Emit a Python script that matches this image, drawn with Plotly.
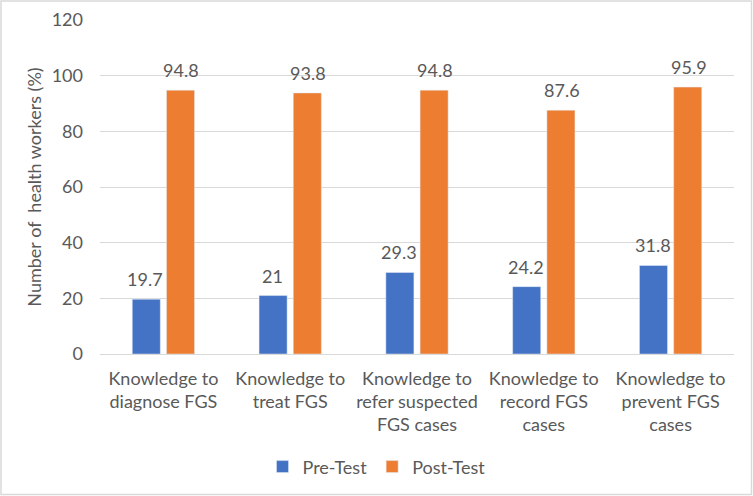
import plotly.graph_objects as go

categories = [
    "Knowledge to<br>diagnose FGS",
    "Knowledge to<br>treat FGS",
    "Knowledge to<br>refer suspected<br>FGS cases",
    "Knowledge to<br>record FGS<br>cases",
    "Knowledge to<br>prevent FGS<br>cases",
]
pre_test = [19.7, 21, 29.3, 24.2, 31.8]
post_test = [94.8, 93.8, 94.8, 87.6, 95.9]

font_family = "Lato, 'Open Sans', sans-serif"
text_color = "#595959"
fs = 18

W, H = 753, 496
ml, mr, mt, mb = 100, 19, 20, 142

fig = go.Figure()
fig.add_trace(go.Bar(x=categories, y=pre_test, name="Pre-Test",
                     marker=dict(color="#4472C4")))
fig.add_trace(go.Bar(x=categories, y=post_test, name="Post-Test",
                     marker=dict(color="#ED7D31")))

# data labels, lifted a little above each bar
for vals, shift in [(pre_test, -18), (post_test, 18)]:
    for cat, v in zip(categories, vals):
        fig.add_annotation(
            x=cat, y=v, text=f"{v:g}", showarrow=False,
            xanchor="center", yanchor="bottom", xshift=shift, yshift=7,
            font=dict(size=fs, color=text_color),
        )

# light border around the whole chart
pw, ph = W - ml - mr, H - mt - mb
fig.add_shape(
    type="rect", xref="paper", yref="paper",
    x0=-(ml - 1) / pw, x1=1 + (mr - 1.5) / pw,
    y0=-(mb - 1.5) / ph, y1=1 + (mt - 1) / ph,
    line=dict(color="#D9D9D9", width=1.5), layer="below",
)

fig.update_layout(
    width=W, height=H,
    margin=dict(l=ml, r=mr, t=mt, b=mb, autoexpand=False),
    paper_bgcolor="white", plot_bgcolor="white",
    font=dict(family=font_family, size=fs, color=text_color),
    barmode="group", bargap=0.46, bargroupgap=0.18,
    showlegend=True,
    legend=dict(
        orientation="h", x=(W / 2 - ml) / pw, xanchor="center",
        y=-0.338, yanchor="middle",
        font=dict(size=fs, color=text_color), itemwidth=30,
    ),
    xaxis=dict(
        showgrid=False, showline=True, linecolor="#D9D9D9", linewidth=1,
        tickfont=dict(size=fs, color=text_color), ticks="",
        ticklabelstandoff=8, automargin=False,
    ),
    yaxis=dict(
        range=[0, 120], dtick=20, showgrid=True, gridcolor="#D9D9D9",
        gridwidth=1, zeroline=False, showline=False, automargin=False,
        tickfont=dict(size=fs, color=text_color), ticks="", ticklabelstandoff=16,
        title=dict(text="Number of  health workers (%)",
                   font=dict(size=fs, color=text_color), standoff=5),
    ),
)

fig.write_html("out.html", config={"displayModeBar": False},
               post_script="document.body.style.margin='0';")
